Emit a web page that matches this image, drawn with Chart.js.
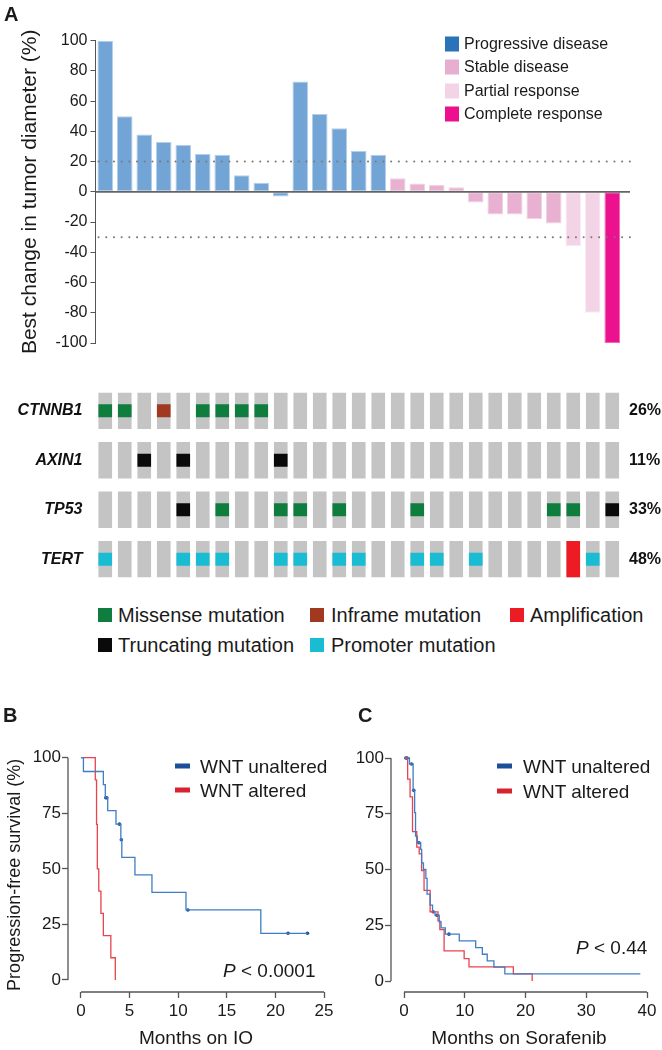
<!DOCTYPE html>
<html>
<head>
<meta charset="utf-8">
<script src="https://cdn.jsdelivr.net/npm/chart.js@4.4.1/dist/chart.umd.min.js"></script>
<style>
  html, body { margin: 0; padding: 0; background: #fff; }
  body { width: 662px; height: 1050px; position: relative; overflow: hidden;
         font-family: "Liberation Sans", Arial, sans-serif; color: #1a1a1a; }
  .box { position: absolute; }
  .t { position: absolute; white-space: nowrap; line-height: 1; transform: translateY(-50%); }
  .sq { position: absolute; transform: translateY(-50%); }
  .letter { font-weight: bold; font-size: 20px; }
</style>
</head>
<body>

<div class="box" style="left:0;top:0;width:662px;height:360px"><canvas id="waterfall"></canvas></div>
<div class="box" style="left:0;top:370px;width:662px;height:230px"><canvas id="onco"></canvas></div>
<div class="box" style="left:0;top:700px;width:340px;height:350px"><canvas id="kmIO"></canvas></div>
<div class="box" style="left:330px;top:700px;width:332px;height:350px"><canvas id="kmSora"></canvas></div>

<!-- panel letters -->
<div class="t letter" style="left:4px;top:14px">A</div>
<div class="t letter" style="left:3px;top:715px">B</div>
<div class="t letter" style="left:358px;top:715px">C</div>

<!-- response legend -->
<div class="sq" style="left:445px;top:44px;width:14px;height:15px;background:#2a73b8"></div>
<div class="t" style="left:464px;top:44px;font-size:16px">Progressive disease</div>
<div class="sq" style="left:445px;top:67px;width:14px;height:15px;background:#e6afd1"></div>
<div class="t" style="left:464px;top:67px;font-size:16px">Stable disease</div>
<div class="sq" style="left:445px;top:91px;width:14px;height:15px;background:#f3d3e6"></div>
<div class="t" style="left:464px;top:91px;font-size:16px">Partial response</div>
<div class="sq" style="left:445px;top:114px;width:14px;height:15px;background:#ec108e"></div>
<div class="t" style="left:464px;top:114px;font-size:16px">Complete response</div>

<!-- alteration legend -->
<div class="sq" style="left:98px;top:615px;width:14px;height:14px;background:#0e7d3d"></div>
<div class="t" style="left:118px;top:615px;font-size:20px">Missense mutation</div>
<div class="sq" style="left:310px;top:615px;width:14px;height:14px;background:#a0391f"></div>
<div class="t" style="left:331px;top:615px;font-size:20px">Inframe mutation</div>
<div class="sq" style="left:510px;top:615px;width:14px;height:14px;background:#ed1c24"></div>
<div class="t" style="left:530px;top:615px;font-size:20px">Amplification</div>
<div class="sq" style="left:98px;top:645px;width:14px;height:14px;background:#0a0a0a"></div>
<div class="t" style="left:118px;top:645px;font-size:20px">Truncating mutation</div>
<div class="sq" style="left:310px;top:645px;width:14px;height:14px;background:#19bcd3"></div>
<div class="t" style="left:331px;top:645px;font-size:20px">Promoter mutation</div>

<!-- KM legends and p values -->
<div class="sq" style="left:175px;top:766px;width:15px;height:5px;background:#1b4f9a"></div>
<div class="t" style="left:200px;top:766px;font-size:19px">WNT unaltered</div>
<div class="sq" style="left:175px;top:790px;width:15px;height:5px;background:#d8232f"></div>
<div class="t" style="left:200px;top:790px;font-size:19px">WNT altered</div>
<div class="t" style="left:223px;top:970px;font-size:19px"><i>P</i> &lt; 0.0001</div>

<div class="sq" style="left:497px;top:766px;width:15px;height:5px;background:#1b4f9a"></div>
<div class="t" style="left:523px;top:766px;font-size:19px">WNT unaltered</div>
<div class="sq" style="left:497px;top:791px;width:15px;height:5px;background:#d8232f"></div>
<div class="t" style="left:523px;top:791px;font-size:19px">WNT altered</div>
<div class="t" style="left:576px;top:947px;font-size:19px"><i>P</i> &lt; 0.44</div>

<script>
// ---- panel A: best change per patient ----
const patients = ['1','2','3','4','5','6','7','8','9','10','11','12','13','14',
  '15','16','17','18','19','20','21','22','23','24','25','26','27'];
const bestChange = [100, 50, 38, 33, 31, 25, 24.5, 11, 6, -3, 73, 51.5, 42, 27, 24.5,
  9, 5.5, 4.5, 3, -7, -15, -15, -18, -21, -36, -80, -100];
const response = ['PD','PD','PD','PD','PD','PD','PD','PD','PD','PD','PD','PD','PD','PD','PD',
  'SD','SD','SD','SD','SD','SD','SD','SD','SD','PR','PR','CR'];
const waterfallTicks = [-100, -80, -60, -40, -20, 0, 20, 40, 60, 80, 100];
const thresholds = [20, -30];

// ---- oncoprint: M missense, I inframe, T truncating, P promoter, A amplification ----
const genes = ['CTNNB1', 'AXIN1', 'TP53', 'TERT'];
const genePct = ['26%', '11%', '33%', '48%'];
const ctnnb1Alt = ['M','M','','I','','M','M','M','M','','','','','','','','','','','','','','','','','',''];
const axin1Alt  = ['','','T','','T','','','','','T','','','','','','','','','','','','','','','','',''];
const tp53Alt   = ['','','','','T','','M','','','M','M','','M','','','','M','','','','','','','M','M','','T'];
const tertAlt   = ['P','','','','P','P','P','','','P','P','','P','P','','','P','P','','P','','','','','A','P',''];

// ---- panel B: PFS on IO ----
const ioTicksX = [0, 5, 10, 15, 20, 25];
const ioUnT = [0, 0.25, 2.3, 2.5, 2.75, 3.6, 4.1, 4.2, 5.55, 7.3, 10.8, 18.5, 23.3];
const ioUnS = [100, 93.8, 87.9, 82, 76.2, 70.1, 63.1, 55.2, 47.3, 39.4, 31.5, 21, 21];
const ioUnCensT = [2.55, 2.65, 3.95, 4.15, 11.0, 21.3, 23.3];
const ioUnCensS = [82, 82, 70.1, 63.1, 31.5, 21, 21];
const ioAltT = [0, 1.47, 1.6, 1.68, 1.83, 2.05, 2.3, 3.07, 3.53];
const ioAltS = [100, 90, 70, 50, 40, 30, 20, 10, 0];

// ---- panel C: PFS on sorafenib ----
const soTicksX = [0, 10, 20, 30, 40];
const soUnT = [0, 0.9, 1.5, 1.75, 1.9, 2.2, 2.75, 2.9, 3.2, 3.6, 3.8, 4.3, 4.7, 5.1,
  5.8, 6.1, 6.8, 9.1, 11.8, 12.9, 13.7, 14.8, 16.6, 38.9];
const soUnS = [100, 97.3, 85.5, 75.5, 65, 62, 59, 53, 50, 46, 39, 34, 31, 29.5,
  26.5, 23.8, 21, 18, 15, 12, 9, 6.2, 3.2, 3.2];
const soUnCensT = [0.5, 1.25, 1.6, 2.45, 5.4, 7.4];
const soUnCensS = [100, 97.3, 85.5, 62, 29.5, 21];
const soAltT = [0, 0.6, 1.0, 1.4, 2.1, 2.5, 2.9, 3.3, 4.3, 5.6, 5.9, 6.6, 9.9, 10.7, 18.0, 21.1];
const soAltS = [100, 90.5, 82.6, 67, 60, 57, 49.5, 40.6, 31, 27, 23, 13.5, 10, 6.3, 3.2, 0];
const soAltCensT = [0.3, 4.8];
const soAltCensS = [100, 31];

const kmTicksY = [0, 25, 50, 75, 100];

Chart.defaults.font.family = '"Liberation Sans", Arial, sans-serif';
Chart.defaults.color = '#1a1a1a';
Chart.defaults.animation = false;
Chart.defaults.plugins.legend.display = false;
Chart.defaults.plugins.tooltip.enabled = false;

const fillFor = { PD: '#72a5d5', SD: '#e8b1d2', PR: '#f3d4e6', CR: '#ec118f' };
const edgeFor = { PD: '#b3cfea', SD: '#f2d3e5', PR: '#faeaf3', CR: '#f467b2' };

const refLines = {
  id: 'refLines',
  afterDatasetsDraw(chart) {
    const { ctx, chartArea, scales: { y } } = chart;
    ctx.save();
    ctx.strokeStyle = '#646464';
    ctx.lineWidth = 1.6;
    const y0 = y.getPixelForValue(0);
    ctx.beginPath();
    ctx.moveTo(chartArea.left, y0);
    ctx.lineTo(chartArea.right + 8, y0);
    ctx.stroke();
    ctx.strokeStyle = '#7a7a7a';
    ctx.lineWidth = 2;
    ctx.lineCap = 'round';
    ctx.setLineDash([0.1, 7.6]);
    thresholds.forEach(v => {
      const py = y.getPixelForValue(v);
      ctx.beginPath();
      ctx.moveTo(chartArea.left + 3, py);
      ctx.lineTo(chartArea.right + 8, py);
      ctx.stroke();
    });
    ctx.restore();
  }
};

new Chart(document.getElementById('waterfall'), {
  type: 'bar',
  data: {
    labels: patients,
    datasets: [{
      data: bestChange,
      backgroundColor: response.map(r => fillFor[r]),
      borderColor: response.map(r => edgeFor[r]),
      borderWidth: 1,
      borderSkipped: false,
      categoryPercentage: 0.8,
      barPercentage: 1
    }]
  },
  options: {
    responsive: true,
    maintainAspectRatio: false,
    layout: { padding: { top: 40.7, right: 40, bottom: 17, left: 0 } },
    scales: {
      x: { display: false },
      y: {
        min: -100, max: 100,
        afterFit: s => { s.width = 95.5; },
        afterBuildTicks: s => { s.ticks = waterfallTicks.map(v => ({ value: v })); },
        ticks: { font: { size: 16 }, color: '#1a1a1a', padding: 3 },
        grid: { drawOnChartArea: false, tickLength: 5, tickColor: '#555', tickWidth: 1 },
        border: { color: '#555', width: 1 },
        title: {
          display: true, text: 'Best change in tumor diameter (%)',
          font: { size: 21 }, color: '#1a1a1a', padding: { top: 18, bottom: 0 }
        }
      }
    }
  },
  plugins: [refLines]
});

// ---- oncoprint ----
const ROW_PITCH = 1.36;
const geneRows = [ctnnb1Alt, axin1Alt, tp53Alt, tertAlt];
const mutStyle = [
  { code: 'M', color: '#0e7d3d' },
  { code: 'I', color: '#a0391f' },
  { code: 'T', color: '#0a0a0a' },
  { code: 'P', color: '#19bcd3' },
  { code: 'A', color: '#ed1c24' }
];
const oncoSets = [];
geneRows.forEach((row, g) => {
  const top = g * ROW_PITCH;
  oncoSets.push({ data: row.map(() => [top, top + 1]), backgroundColor: '#c4c4c4', order: 2 });
});
geneRows.forEach((row, g) => {
  const top = g * ROW_PITCH;
  mutStyle.forEach(ms => {
    if (!row.includes(ms.code)) return;
    const band = ms.code === 'A' ? [0, 1] : [0.32, 0.68];
    oncoSets.push({
      data: row.map(c => c === ms.code ? [top + band[0], top + band[1]] : null),
      backgroundColor: ms.color,
      order: 1
    });
  });
});
const oncoMax = 3 * ROW_PITCH + 1;
const geneTicks = s => { s.ticks = genes.map((g, i) => ({ value: i * ROW_PITCH + 0.5 })); };

new Chart(document.getElementById('onco'), {
  type: 'bar',
  data: { labels: patients, datasets: oncoSets },
  options: {
    responsive: true,
    maintainAspectRatio: false,
    layout: { padding: { top: 16, right: 0, bottom: 18, left: 0 } },
    datasets: { bar: { grouped: false, categoryPercentage: 1, barPercentage: 0.7, borderWidth: 0, borderSkipped: false } },
    scales: {
      x: { display: false },
      y: {
        position: 'left', reverse: true, min: 0, max: oncoMax,
        afterFit: s => { s.width = 95.5; },
        afterBuildTicks: geneTicks,
        ticks: {
          callback: (v, i) => genes[i],
          font: { size: 16, weight: 'bold', style: 'italic' }, color: '#111', padding: 13
        },
        grid: { display: false, drawTicks: false },
        border: { display: false }
      },
      pct: {
        position: 'right', reverse: true, min: 0, max: oncoMax,
        afterFit: s => { s.width = 40; },
        afterBuildTicks: geneTicks,
        ticks: { callback: (v, i) => genePct[i], font: { size: 16, weight: 'bold' }, color: '#111', padding: 7 },
        grid: { display: false, drawTicks: false },
        border: { display: false }
      }
    }
  }
});

// ---- Kaplan-Meier panels ----
const offsetAxes = {
  id: 'offsetAxes',
  afterDraw(chart) {
    const { ctx, chartArea, scales: { x, y } } = chart;
    const xt = x.ticks.map(t => t.value);
    const yt = y.ticks.map(t => t.value);
    ctx.save();
    ctx.strokeStyle = '#555';
    ctx.lineWidth = 1.3;
    ctx.beginPath();
    ctx.moveTo(x.getPixelForValue(xt[0]), chartArea.bottom);
    ctx.lineTo(x.getPixelForValue(xt[xt.length - 1]), chartArea.bottom);
    ctx.moveTo(chartArea.left, y.getPixelForValue(yt[0]));
    ctx.lineTo(chartArea.left, y.getPixelForValue(yt[yt.length - 1]));
    ctx.stroke();
    ctx.restore();
  }
};

function pts(ts, ss) { return ts.map((t, i) => ({ x: t, y: ss[i] })); }

function kmChart(id, o) {
  return new Chart(document.getElementById(id), {
    type: 'line',
    data: {
      datasets: [
        { data: pts(o.unT, o.unS), borderColor: '#3f7dc6', borderWidth: 1.3, stepped: 'before', pointRadius: 0, clip: false },
        { data: pts(o.altT, o.altS), borderColor: '#e8434e', borderWidth: 1.3, stepped: 'before', pointRadius: 0, clip: false },
        { type: 'scatter', data: pts(o.unCT, o.unCS), showLine: false, pointRadius: 1.8, pointBackgroundColor: '#1b4f9a', pointBorderWidth: 0, clip: false },
        { type: 'scatter', data: pts(o.altCT, o.altCS), showLine: false, pointRadius: 1.8, pointBackgroundColor: '#c8202c', pointBorderWidth: 0, clip: false }
      ]
    },
    options: {
      responsive: true,
      maintainAspectRatio: false,
      layout: { padding: { top: o.top, right: o.right, bottom: 0, left: 0 } },
      scales: {
        x: {
          type: 'linear', min: o.xMin, max: o.xTicks[o.xTicks.length - 1],
          afterFit: s => { s.height = 58; },
          afterBuildTicks: s => { s.ticks = o.xTicks.map(v => ({ value: v })); },
          ticks: { font: { size: 17 }, color: '#1a1a1a', padding: 3 },
          grid: { drawOnChartArea: false, tickLength: 6, tickColor: '#555', tickWidth: 1.3 },
          border: { display: false },
          title: { display: true, text: o.xTitle, font: { size: 19 }, color: '#1a1a1a', padding: { top: 0, bottom: 0 } }
        },
        y: {
          type: 'linear', min: o.yMin, max: 100,
          afterFit: s => { s.width = o.yWidth; },
          afterBuildTicks: s => { s.ticks = kmTicksY.map(v => ({ value: v })); },
          ticks: { font: { size: 17 }, color: '#1a1a1a', padding: 1 },
          grid: { drawOnChartArea: false, tickLength: 6, tickColor: '#555', tickWidth: 1.3 },
          border: { display: false },
          title: { display: !!o.yTitle, text: o.yTitle || '', font: { size: 18 }, color: '#1a1a1a', padding: { top: 4, bottom: 0 } }
        }
      }
    },
    plugins: [offsetAxes]
  });
}

kmChart('kmIO', {
  unT: ioUnT, unS: ioUnS, altT: ioAltT, altS: ioAltS,
  unCT: ioUnCensT, unCS: ioUnCensS, altCT: [], altCS: [],
  xTicks: ioTicksX, xMin: -1.337, yMin: -5.4, top: 57.7, right: 16, yWidth: 68,
  xTitle: 'Months on IO', yTitle: 'Progression-free survival (%)'
});

kmChart('kmSora', {
  unT: soUnT, unS: soUnS, altT: soAltT, altS: soAltS,
  unCT: soUnCensT, unCS: soUnCensS, altCT: soAltCensT, altCS: soAltCensS,
  xTicks: soTicksX, xMin: -2.14, yMin: -4.93, top: 58, right: 15, yWidth: 61,
  xTitle: 'Months on Sorafenib', yTitle: ''
});
</script>
</body>
</html>
